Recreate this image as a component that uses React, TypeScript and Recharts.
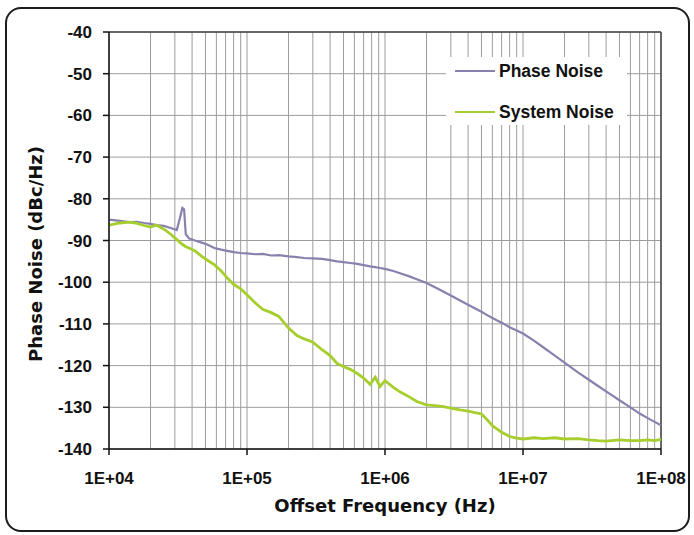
import { CartesianGrid, Legend, Line, LineChart, ReferenceLine, XAxis, YAxis } from "recharts"

const freqs = [
  1e4, 1.2e4, 1.4e4, 1.6e4, 1.8e4, 2e4, 2.2e4, 2.5e4, 2.8e4, 3.1e4, 3.3e4, 3.4e4, 3.5e4, 3.6e4, 3.8e4,
  4.2e4, 4.7e4, 5.2e4, 5.8e4, 6.5e4, 7.2e4, 8e4, 9e4, 1e5, 1.15e5, 1.3e5, 1.5e5, 1.7e5, 2e5, 2.3e5,
  2.6e5, 3e5, 3.5e5, 4e5, 4.5e5, 5e5, 5.6e5, 6.3e5, 7e5, 7.8e5, 8.5e5, 9.2e5, 1e6, 1.15e6, 1.3e6,
  1.5e6, 1.7e6, 2e6, 2.3e6, 2.6e6, 3e6, 3.5e6, 4e6, 4.5e6, 5e6, 5.5e6, 6e6, 7e6, 8e6, 9e6,
  1e7, 1.2e7, 1.4e7, 1.7e7, 2e7, 2.5e7, 3e7, 3.5e7, 4e7, 5e7, 6e7, 7e7, 8e7, 9e7, 1e8,
]

const phaseNoise = [
  -85.0, -85.3, -85.6, -85.5, -85.8, -86.0, -86.3, -86.5, -87.0, -87.5, -84.0, -82.2, -82.5, -88.5, -89.5,
  -90.0, -90.5, -91.0, -91.8, -92.2, -92.5, -92.8, -93.0, -93.1, -93.3, -93.2, -93.6, -93.5, -93.8, -94.0,
  -94.2, -94.3, -94.4, -94.7, -95.0, -95.2, -95.4, -95.6, -95.9, -96.2, -96.4, -96.6, -96.8, -97.3, -97.9,
  -98.6, -99.3, -100.2, -101.2, -102.1, -103.2, -104.4, -105.4, -106.3, -107.1, -107.9, -108.6, -109.7, -110.8, -111.6,
  -112.3, -114.0, -115.6, -117.6, -119.3, -121.6, -123.4, -124.9, -126.2, -128.3, -130.0, -131.5, -132.6, -133.5, -134.3,
]

const systemNoise = [
  -86.3, -85.8, -85.6, -85.9, -86.4, -86.8, -86.3, -87.3, -88.5, -89.8, -90.6, -90.9, -91.2, -91.5, -91.8,
  -92.5, -93.8, -94.8, -95.8, -97.3, -99.0, -100.5, -101.6, -103.0, -105.0, -106.5, -107.3, -108.2, -111.0, -112.8,
  -113.6, -114.4, -116.2, -117.6, -119.5, -120.2, -120.9, -121.9, -123.0, -124.5, -122.8, -125.0, -123.6, -125.2, -126.4,
  -127.5, -128.6, -129.4, -129.6, -129.8, -130.2, -130.6, -130.9, -131.3, -131.6, -133.0, -134.4, -136.0, -137.0, -137.4,
  -137.6, -137.3, -137.5, -137.3, -137.6, -137.5, -137.8, -138.0, -138.1, -137.8, -138.0, -138.0, -137.8, -138.0, -137.7,
]

// grid lines: 1..9 x each decade
const gridFreqs = [
  1e4, 2e4, 3e4, 4e4, 5e4, 6e4, 7e4, 8e4, 9e4,
  1e5, 2e5, 3e5, 4e5, 5e5, 6e5, 7e5, 8e5, 9e5,
  1e6, 2e6, 3e6, 4e6, 5e6, 6e6, 7e6, 8e6, 9e6,
  1e7, 2e7, 3e7, 4e7, 5e7, 6e7, 7e7, 8e7, 9e7,
  1e8,
]
const decadeLabels: Record<number, string> = {
  1e4: "1E+04", 1e5: "1E+05", 1e6: "1E+06", 1e7: "1E+07", 1e8: "1E+08",
}
const yTicks = [-140, -130, -120, -110, -100, -90, -80, -70, -60, -50, -40]

const seriesNames = ["Phase Noise", "System Noise"]
const PURPLE = "#8a80ad"
const GREEN = "#a6ce2c"

const data = freqs.map((f, i) => ({ f, pn: phaseNoise[i], sn: systemNoise[i] }))

const tickFont = "'Liberation Sans', Arial, sans-serif"
const titleFont = "'DejaVu Sans', Verdana, sans-serif"

function DecadeTick(props: any) {
  const { x, y, payload } = props
  const label = decadeLabels[payload.value]
  if (!label) return null
  return (
    <g>
      <line x1={x} x2={x} y1={y} y2={y + 6} stroke="#111" strokeWidth={1.5} />
      <text x={x} y={y + 29} textAnchor="middle" dominantBaseline="central"
        fontFamily={tickFont} fontWeight="bold" fontSize={17} fill="#111">
        {label}
      </text>
    </g>
  )
}

function LegendBox() {
  const colors = [PURPLE, GREEN]
  return (
    <div style={{ width: 181, height: 68, background: "#fff", position: "relative" }}>
      {seriesNames.map((name, i) => (
        <div key={name} style={{ position: "absolute", left: 9, top: 14 + i * 41 - 11, height: 22, display: "flex", alignItems: "center" }}>
          <div style={{ width: 40, height: 2, background: colors[i] }} />
          <span style={{ marginLeft: 4, fontFamily: tickFont, fontWeight: "bold", fontSize: 17.5, color: "#111" }}>{name}</span>
        </div>
      ))}
    </div>
  )
}

function YTitle() {
  return (
    <text x={35} y={254} transform="rotate(-90 35 254)" textAnchor="middle" dominantBaseline="central"
      fontFamily={titleFont} fontWeight="bold" fontSize={18} fill="#111">
      Phase Noise (dBc/Hz)
    </text>
  )
}

export default function App() {
  return (
    <div style={{ position: "absolute", left: 0, top: 0, width: 694, height: 535, background: "#fff" }}>
      <div style={{
        position: "absolute", left: 5, top: 7, width: 685, height: 525, boxSizing: "border-box",
        border: "2.5px solid #1c1c1c", borderRadius: 16,
      }} />
      <div style={{ position: "absolute", left: 0, top: 0 }}>
        <LineChart width={694} height={535} data={data} margin={{ top: 32, right: 33, bottom: 36, left: 49 }}>
          <CartesianGrid stroke="#9c9c9c" strokeWidth={1} />
          <XAxis dataKey="f" type="number" scale="log" domain={[1e4, 1e8]} allowDataOverflow
            ticks={gridFreqs} interval={0} tick={<DecadeTick />} tickLine={false} tickSize={0} tickMargin={0}
            height={50} axisLine={{ stroke: "#111", strokeWidth: 1.5 }}
            label={{ value: "Offset Frequency (Hz)", position: "bottom", offset: 0, fontFamily: titleFont, fontWeight: "bold", fontSize: 18, fill: "#111" }} />
          <YAxis type="number" domain={[-140, -40]} ticks={yTicks} interval={0} width={60}
            tickSize={6} tickMargin={11} axisLine={{ stroke: "#111", strokeWidth: 1.5 }} tickLine={{ stroke: "#111", strokeWidth: 1.5 }}
            tick={{ fontFamily: tickFont, fontWeight: "bold", fontSize: 17, fill: "#111" }}
            label={<YTitle />} />
          <ReferenceLine y={-40} stroke="#444" strokeWidth={1.5} />
          <ReferenceLine x={1e8} stroke="#444" strokeWidth={1.5} />
          <Legend content={<LegendBox />} layout="vertical" align="center" verticalAlign="middle"
            wrapperStyle={{ position: "absolute", left: 446, top: 57, width: 181, height: 68 }} />
          <Line dataKey="pn" name={seriesNames[0]} stroke={PURPLE} strokeWidth={2.2} dot={false} isAnimationActive={false} />
          <Line dataKey="sn" name={seriesNames[1]} stroke={GREEN} strokeWidth={2.8} dot={false} isAnimationActive={false} />
        </LineChart>
      </div>
    </div>
  )
}
